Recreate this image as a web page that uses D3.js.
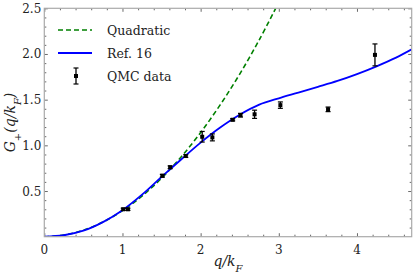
<!DOCTYPE html>
<html>
<head>
<meta charset="utf-8">
<script src="https://cdn.jsdelivr.net/npm/d3@7"></script>
<style>
  body { margin: 0; background: #fff; }
  text { font-family: "DejaVu Serif", serif; fill: #222; }
</style>
</head>
<body>
<svg id="chart" width="415" height="277"></svg>
<script>
// values
const refQ   = [0, 0.25, 0.5, 0.75, 1.0, 1.25, 1.5, 1.75, 2.0, 2.25, 2.5, 2.75, 3.0, 3.25, 3.5, 3.75, 4.0, 4.25, 4.5, 4.7];
const refG   = [0, 0.016, 0.066, 0.16, 0.29, 0.46, 0.655, 0.845, 1.03, 1.195, 1.335, 1.445, 1.515, 1.577, 1.64, 1.705, 1.78, 1.865, 1.96, 2.05];

const quadQ  = [0, 0.25, 0.5, 0.75, 1.0, 1.25, 1.5, 1.75, 2.0, 2.25, 2.5, 2.75, 2.96];
const quadG  = [0, 0.018, 0.071, 0.16, 0.285, 0.445, 0.64, 0.873, 1.14, 1.443, 1.78, 2.155, 2.5];

const qmcQ   = [1.01, 1.07, 1.51, 1.61, 1.81, 2.02, 2.15, 2.41, 2.51, 2.69, 3.02, 3.63, 4.23];
const qmcG   = [0.30, 0.30, 0.667, 0.76, 0.883, 1.094, 1.087, 1.28, 1.33, 1.34, 1.44, 1.394, 1.99];
const qmcErr = [0.012, 0.012, 0.015, 0.015, 0.015, 0.058, 0.038, 0.012, 0.02, 0.045, 0.035, 0.025, 0.12];

const xTicks = [0, 1, 2, 3, 4];
const yTicks = [0.5, 1.0, 1.5, 2.0, 2.5];

const margin = {top: 8.3, right: 3.3, bottom: 40.3, left: 44.3},
      width = 415 - margin.left - margin.right,
      height = 277 - margin.top - margin.bottom;

const svg = d3.select("#chart");
const g = svg.append("g").attr("transform", `translate(${margin.left},${margin.top})`);

const x = d3.scaleLinear().domain([0, 4.7]).range([0, width]);
const y = d3.scaleLinear().domain([0, 2.5]).range([height, 0]);

g.append("clipPath").attr("id", "clip")
  .append("rect").attr("width", width).attr("height", height);

// ticks on all four sides, pointing in
const tickCol = "#444";
function ticks(axis, vals, len) {
  return axis.tickValues(vals).tickSize(-len).tickFormat("");
}
const xMinor = d3.range(0, 4.71, 0.2).filter(v => Math.abs(v - Math.round(v)) > 1e-6);
const yMinor = d3.range(0.1, 2.5, 0.1).filter(v => Math.abs(v * 2 - Math.round(v * 2)) > 1e-6);

const axes = g.append("g").attr("class", "ticks");
axes.append("g").attr("transform", `translate(0,${height})`).call(ticks(d3.axisBottom(x), xTicks, 3.5));
axes.append("g").attr("transform", `translate(0,${height})`).call(ticks(d3.axisBottom(x), xMinor, 2));
axes.append("g").call(ticks(d3.axisTop(x), xTicks, 3.5));
axes.append("g").call(ticks(d3.axisTop(x), xMinor, 2));
axes.append("g").call(ticks(d3.axisLeft(y), yTicks, 3.5));
axes.append("g").call(ticks(d3.axisLeft(y), yMinor, 2));
axes.append("g").attr("transform", `translate(${width},0)`).call(ticks(d3.axisRight(y), yTicks, 3.5));
axes.append("g").attr("transform", `translate(${width},0)`).call(ticks(d3.axisRight(y), yMinor, 2));
axes.selectAll(".domain").remove();
axes.selectAll("line").attr("stroke", tickCol).attr("stroke-width", 0.8);

// tick labels
g.selectAll(".xlab").data(xTicks).enter().append("text")
  .attr("x", d => x(d)).attr("y", height + 17)
  .attr("text-anchor", "middle").attr("font-size", 12)
  .text(d => d);
g.selectAll(".ylab").data(yTicks).enter().append("text")
  .attr("x", -3).attr("y", d => y(d) + 4.5)
  .attr("text-anchor", "end").attr("font-size", 12)
  .text(d => d.toFixed(1));

// curves
const line = d3.line().x(d => x(d[0])).y(d => y(d[1])).curve(d3.curveCatmullRom);
const plot = g.append("g").attr("clip-path", "url(#clip)");

plot.append("path").datum(d3.zip(quadQ, quadG))
  .attr("d", line).attr("fill", "none")
  .attr("stroke", "#008000").attr("stroke-width", 1.6).attr("stroke-dasharray", "5,3");

plot.append("path").datum(d3.zip(refQ, refG))
  .attr("d", line).attr("fill", "none")
  .attr("stroke", "#0000ff").attr("stroke-width", 1.8);

// QMC points with error bars
const qmc = d3.zip(qmcQ, qmcG, qmcErr);
const pts = g.append("g").selectAll("g").data(qmc).enter().append("g");
pts.append("line")
  .attr("x1", d => x(d[0])).attr("x2", d => x(d[0]))
  .attr("y1", d => y(d[1] - d[2])).attr("y2", d => y(d[1] + d[2]))
  .attr("stroke", "#000").attr("stroke-width", 1.3);
pts.selectAll(".cap").data(d => [[d[0], d[1] - d[2]], [d[0], d[1] + d[2]]]).enter().append("line")
  .attr("x1", d => x(d[0]) - 2.5).attr("x2", d => x(d[0]) + 2.5)
  .attr("y1", d => y(d[1])).attr("y2", d => y(d[1]))
  .attr("stroke", "#000").attr("stroke-width", 1.2);
pts.append("rect")
  .attr("x", d => x(d[0]) - 2).attr("y", d => y(d[1]) - 2)
  .attr("width", 4).attr("height", 4).attr("fill", "#000");

// frame
g.append("rect").attr("width", width).attr("height", height)
  .attr("fill", "none").attr("stroke", "#aaa").attr("stroke-width", 1.2);

// axis labels
svg.append("text")
  .attr("x", margin.left + width / 2).attr("y", 266)
  .attr("text-anchor", "middle").attr("font-size", 14).attr("font-style", "italic")
  .html('q/k<tspan baseline-shift="sub" font-size="10">F</tspan>');
svg.append("text")
  .attr("transform", `translate(15,${margin.top + height / 2}) rotate(-90)`)
  .attr("text-anchor", "middle").attr("font-size", 14).attr("font-style", "italic")
  .html('G<tspan baseline-shift="sub" font-size="10" font-style="normal">+</tspan>(q/k<tspan baseline-shift="sub" font-size="10">F</tspan>)');

// legend
const legend = svg.append("g").attr("transform", "translate(58,30)");
legend.append("line").attr("x1", 0).attr("x2", 34).attr("y1", 0).attr("y2", 0)
  .attr("stroke", "#008000").attr("stroke-width", 1.6).attr("stroke-dasharray", "5,3");
legend.append("line").attr("x1", 0).attr("x2", 34).attr("y1", 23).attr("y2", 23)
  .attr("stroke", "#0000ff").attr("stroke-width", 1.8);
legend.append("line").attr("x1", 18).attr("x2", 18).attr("y1", 38).attr("y2", 54)
  .attr("stroke", "#000").attr("stroke-width", 1.3);
legend.selectAll(".lcap").data([38, 54]).enter().append("line")
  .attr("x1", 15.5).attr("x2", 20.5).attr("y1", d => d).attr("y2", d => d)
  .attr("stroke", "#000").attr("stroke-width", 1.2);
legend.append("rect").attr("x", 16).attr("y", 44).attr("width", 4).attr("height", 4).attr("fill", "#000");
legend.selectAll(".ltxt").data(["Quadratic", "Ref. 16", "QMC data"]).enter().append("text")
  .attr("x", 49).attr("y", (d, i) => i * 23 + 4.5)
  .attr("font-size", 12.5)
  .text(d => d);
</script>
</body>
</html>
